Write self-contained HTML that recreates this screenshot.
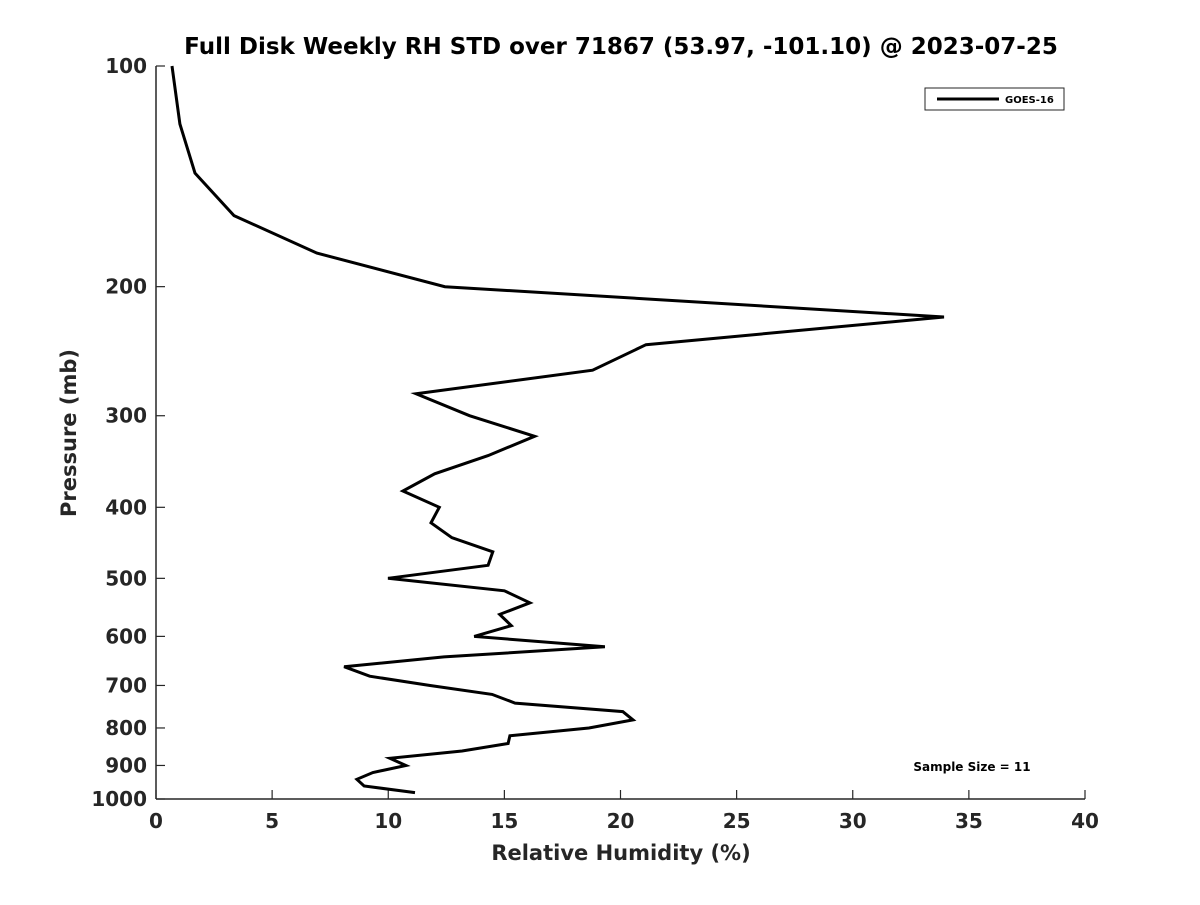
<!DOCTYPE html>
<html><head><meta charset="utf-8"><style>
body{margin:0;background:#fff}
svg text{font-family:"DejaVu Sans","Liberation Sans",sans-serif;font-weight:bold;fill:#262626}
</style></head><body>
<svg id="chart" width="1200" height="900" xmlns="http://www.w3.org/2000/svg">
<rect width="1200" height="900" fill="#fff"/>
<text x="621" y="54" font-size="23" text-anchor="middle" style="fill:#000">Full Disk Weekly RH STD over 71867 (53.97, -101.10) @ 2023-07-25</text>
<g id="axes"></g>
<text x="621" y="860" font-size="21" text-anchor="middle">Relative Humidity (%)</text>
<text transform="translate(76,433) rotate(-90)" font-size="21" text-anchor="middle">Pressure (mb)</text>
<g>
<rect x="925" y="88" width="139" height="22" fill="#fff" stroke="#262626" stroke-width="1"/>
<line x1="937" y1="99" x2="999" y2="99" stroke="#000" stroke-width="3"/>
<text x="1005" y="103" font-size="10" style="fill:#000">GOES-16</text>
</g>
<text x="972" y="771" font-size="12" text-anchor="middle" style="fill:#000">Sample Size = 11</text>
</svg>
<script>
const pressures=[100,120,140,160,180,200,220,240,260,280,300,320,340,360,380,400,420,440,460,480,500,520,540,560,580,600,620,640,660,680,700,720,740,760,780,800,820,840,860,880,900,920,940,960,980];
const rhStd=[0.69,1.03,1.68,3.36,6.93,12.44,33.93,21.1,18.8,11.2,13.5,16.3,14.3,12.0,10.63,12.2,11.84,12.74,14.5,14.3,9.99,15.0,16.1,14.8,15.3,13.7,19.33,12.4,8.1,9.2,11.8,14.47,15.46,20.1,20.54,18.64,15.24,15.16,13.18,10.07,10.76,9.34,8.65,8.96,11.15];
const xTicks=[0,5,10,15,20,25,30,35,40];
const yTicks=[100,200,300,400,500,600,700,800,900,1000];
const L=156,R=1085,T=66,B=799;
const xs=v=>L+(v-0)/(40-0)*(R-L);
const ys=p=>T+(Math.log10(p)-2)/(3-2)*(B-T);
const NS="http://www.w3.org/2000/svg";
const svg=document.getElementById('chart');const ax=document.getElementById('axes');
function mk(t,a,p){const e=document.createElementNS(NS,t);for(const k in a)e.setAttribute(k,a[k]);(p||ax).appendChild(e);return e;}
const xl=mk('line',{x1:L,y1:B,x2:R,y2:B,stroke:'#262626','stroke-width':1.5});


const yl=mk('line',{x1:L,y1:T,x2:L,y2:B,stroke:'#262626','stroke-width':1.5});


xTicks.forEach(v=>{const x=xs(v);mk('line',{x1:x,y1:B,x2:x,y2:B-9,stroke:'#262626','stroke-width':1.2});
const t=mk('text',{x:x,y:B+29,'font-size':20,'text-anchor':'middle'});t.textContent=v;

});
yTicks.forEach(p=>{const y=ys(p);mk('line',{x1:L,y1:y,x2:L+9,y2:y,stroke:'#262626','stroke-width':1.2});
const t=mk('text',{x:L-9,y:y+7,'font-size':20,'text-anchor':'end'});t.textContent=p;

});
const pts=pressures.map((p,i)=>xs(rhStd[i]).toFixed(1)+','+ys(p).toFixed(1)).join(' ');
const line=mk('polyline',{points:pts,fill:'none',stroke:'#000','stroke-width':3,'stroke-linejoin':'miter'});


</script>
</body></html>
